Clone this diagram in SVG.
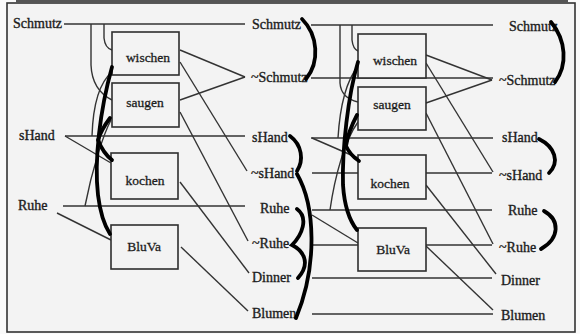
<svg xmlns="http://www.w3.org/2000/svg" width="580" height="334" viewBox="0 0 580 334">
<style>
.t{font-family:"Liberation Serif","Times New Roman",serif;font-size:14px;fill:#1c1c1c;stroke:#1c1c1c;stroke-width:0.35}
.a{font-family:"Liberation Serif","Times New Roman",serif;font-size:13.5px;fill:#1c1c1c;stroke:#1c1c1c;stroke-width:0.3;text-anchor:middle}
.box{fill:#f3f3f3;stroke:#2e2e2e;stroke-width:1.6}
.l{fill:none;stroke:#333;stroke-width:1.4}
.m{fill:none;stroke:#000;stroke-width:3.8;stroke-linecap:round}
</style>
<rect width="580" height="334" fill="#fafafa"/>
<rect x="7" y="3" width="568" height="329" fill="#f3f3f3" stroke="#333" stroke-width="1.6"/>
<rect x="16" y="0" width="552" height="3" fill="#555"/>

<g id="connectors" class="l">
  <path d="M64,24H245"/>
  <path d="M65,136H245"/>
  <path d="M63,206H245"/>
  <path d="M65,136L111,163"/>
  <path d="M57,213L111,240"/>
  <path d="M91,24V65Q92,90 112,100"/>
  <path d="M104,24V38Q105,48 112,50"/>
  <path d="M112,72C100,82 93,105 92,136"/>
  <path d="M111,120C103,135 92,170 85,206"/>
  <path d="M180,50L245,77"/>
  <path d="M180,100L245,77"/>
  <path d="M180,62L247,171"/>
  <path d="M180,112L248,241"/>
  <path d="M180,182L249,273"/>
  <path d="M181,247L248,311"/>
  <path d="M311,25H493"/>
  <path d="M311,78H493"/>
  <path d="M311,138H493"/>
  <path d="M312,173H492"/>
  <path d="M312,210H492"/>
  <path d="M312,245H492"/>
  <path d="M312,278H492"/>
  <path d="M312,314H493"/>
  <path d="M312,138L358,158"/>
  <path d="M312,215L358,243"/>
  <path d="M340,25V83Q341,98 358,102"/>
  <path d="M352,25V40Q353,49 358,51"/>
  <path d="M358,66C347,80 340,105 338,138"/>
  <path d="M358,122C345,140 335,175 330,210"/>
  <path d="M426,55L492,80"/>
  <path d="M426,103L492,80"/>
  <path d="M426,63L493,172"/>
  <path d="M426,113L493,244"/>
  <path d="M426,185L496,274"/>
  <path d="M426,246L493,310"/>
</g>

<g id="wischen1"><rect class="box" x="112" y="32" width="67" height="43"/><text class="a" x="148" y="62">wischen</text></g>
<g id="saugen1"><rect class="box" x="112" y="83" width="67" height="44"/><text class="a" x="145" y="107">saugen</text></g>
<g id="kochen1"><rect class="box" x="111" y="153" width="67" height="46"/><text class="a" x="145" y="185">kochen</text></g>
<g id="bluva1"><rect class="box" x="111" y="225" width="67" height="44"/><text class="a" x="144" y="251">BluVa</text></g>

<g id="wischen2"><rect class="box" x="358" y="34" width="68" height="44"/><text class="a" x="395" y="65">wischen</text></g>
<g id="saugen2"><rect class="box" x="358" y="87" width="68" height="43"/><text class="a" x="392" y="109">saugen</text></g>
<g id="kochen2"><rect class="box" x="358" y="155" width="68" height="44"/><text class="a" x="390" y="188">kochen</text></g>
<g id="bluva2"><rect class="box" x="358" y="228" width="68" height="43"/><text class="a" x="393" y="254">BluVa</text></g>

<g id="p0-schmutz"><text class="t" x="13" y="28">Schmutz</text></g>
<g id="p0-shand"><text class="t" x="19" y="140">sHand</text></g>
<g id="p0-ruhe"><text class="t" x="18" y="210">Ruhe</text></g>

<g id="p1-schmutz"><text class="t" x="252" y="29">Schmutz</text></g>
<g id="p1-nschmutz"><text class="t" x="251" y="82">~Schmutz</text></g>
<g id="p1-shand"><text class="t" x="252" y="142">sHand</text></g>
<g id="p1-nshand"><text class="t" x="251" y="178">~sHand</text></g>
<g id="p1-ruhe"><text class="t" x="260" y="213">Ruhe</text></g>
<g id="p1-nruhe"><text class="t" x="252" y="248">~Ruhe</text></g>
<g id="p1-dinner"><text class="t" x="252" y="282">Dinner</text></g>
<g id="p1-blumen"><text class="t" x="252" y="318">Blumen</text></g>

<g id="p2-schmutz"><text class="t" x="509" y="31">Schmutz</text></g>
<g id="p2-nschmutz"><text class="t" x="499" y="85">~Schmutz</text></g>
<g id="p2-shand"><text class="t" x="502" y="142">sHand</text></g>
<g id="p2-nshand"><text class="t" x="499" y="180">~sHand</text></g>
<g id="p2-ruhe"><text class="t" x="508" y="215">Ruhe</text></g>
<g id="p2-nruhe"><text class="t" x="499" y="252">~Ruhe</text></g>
<g id="p2-dinner"><text class="t" x="501" y="285">Dinner</text></g>
<g id="p2-blumen"><text class="t" x="501" y="320">Blumen</text></g>

<g id="mutex-marks" class="m">
  <path d="M112,67C100,110 94,160 98,195Q101,220 110,234"/>
  <path d="M110,118Q101,130 98,140Q103,153 112,160"/>
  <path d="M358,62C348,95 342,150 343,185Q345,215 357,230"/>
  <path d="M357,115Q348,132 346,146Q350,155 359,161"/>
  <path d="M302,19C318,35 320,62 306,79"/>
  <path d="M290,136C302,145 304,160 297,171"/>
  <path d="M297,174C315,205 318,265 296,318"/>
  <path d="M297,209C309,218 302,235 292,245C302,250 312,262 298,278"/>
  <path d="M551,22C566,40 568,65 555,82"/>
  <path d="M539,139C555,147 560,162 549,173"/>
  <path d="M544,211C560,220 560,238 541,249"/>
</g>
</svg>
